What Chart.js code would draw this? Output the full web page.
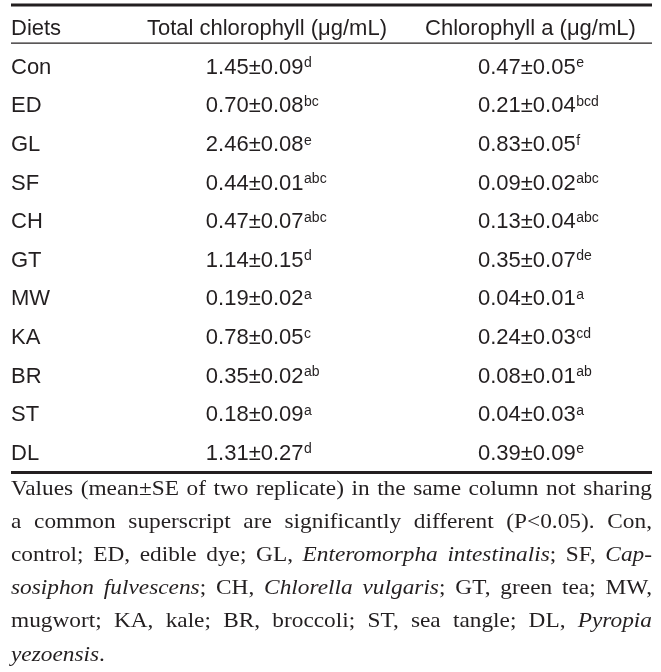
<!DOCTYPE html>
<html lang="en">
<head>
<meta charset="UTF-8">
<title>Chlorophyll by diet</title>
<script src="https://cdn.jsdelivr.net/npm/chart.js"></script>
<style>
  body { margin: 0; background: #fff; }
  #tabella { display: block; }
</style>
</head>
<body>
<canvas id="tabella" width="661" height="672"></canvas>
<script>
// dati della tabella
const diets = ['Con', 'ED', 'GL', 'SF', 'CH', 'GT', 'MW', 'KA', 'BR', 'ST', 'DL'];
const totalMean = [1.45, 0.70, 2.46, 0.44, 0.47, 1.14, 0.19, 0.78, 0.35, 0.18, 1.31];
const totalSE = [0.09, 0.08, 0.08, 0.01, 0.07, 0.15, 0.02, 0.05, 0.02, 0.09, 0.27];
const totalSig = ['d', 'bc', 'e', 'abc', 'abc', 'd', 'a', 'c', 'ab', 'a', 'd'];
const chlaMean = [0.47, 0.21, 0.83, 0.09, 0.13, 0.35, 0.04, 0.24, 0.08, 0.04, 0.39];
const chlaSE = [0.05, 0.04, 0.05, 0.02, 0.04, 0.07, 0.01, 0.03, 0.01, 0.03, 0.09];
const chlaSig = ['e', 'bcd', 'f', 'abc', 'abc', 'de', 'a', 'cd', 'ab', 'a', 'e'];
const headers = ['Diets', 'Total chlorophyll (μg/mL)', 'Chlorophyll a (μg/mL)'];
// _ marks italic on/off
const footnote = [
    'Values (mean±SE of two replicate) in the same column not sharing',
    'a common superscript are significantly different (P<0.05). Con,',
    'control; ED, edible dye; GL, _Enteromorpha intestinalis_; SF, _Cap-_',
    '_sosiphon fulvescens_; CH, _Chlorella vulgaris_; GT, green tea; MW,',
    'mugwort; KA, kale; BR, broccoli; ST, sea tangle; DL, _Pyropia_',
    '_yezoensis_.'
];

const ink = '#231f20';
const sans = '"Liberation Sans", Arial, sans-serif';
const serif = '"Liberation Serif", "Times New Roman", serif';

// posizioni delle colonne sulla scala x (0..1)
const headStart = [0, 0.212, 0.646];
const valStart = [0, 0.304, 0.7285];

const columns = [
    { mean: totalMean, se: totalSE, sig: totalSig },
    { mean: chlaMean, se: chlaSE, sig: chlaSig }
];

function parseWords(line) {
    const words = [];
    let italic = false, word = [], run = '';
    const flush = () => { if (run) word.push({ t: run, it: italic }); run = ''; };
    for (const ch of line) {
        if (ch === '_') { flush(); italic = !italic; }
        else if (ch === ' ') { flush(); if (word.length) words.push(word); word = []; }
        else run += ch;
    }
    flush();
    if (word.length) words.push(word);
    return words;
}

const fnSize = 22;
const fnStretch = 1.06;
function runFont(it) { return (it ? 'italic ' : '') + fnSize + 'px ' + serif; }
function wordWidth(ctx, w) {
    return w.reduce((s, r) => { ctx.font = runFont(r.it); return s + ctx.measureText(r.t).width; }, 0);
}

const tablePlugin = {
    id: 'tablePlugin',
    afterDraw(chart) {
        const ctx = chart.ctx;
        const xs = chart.scales.x, ys = chart.scales.y;
        const area = chart.chartArea;
        const left = xs.getPixelForValue(0), right = xs.getPixelForValue(1);
        ctx.save();
        ctx.fillStyle = ink;
        ctx.strokeStyle = ink;

        // righe orizzontali
        const rule = (yy, w) => { ctx.lineWidth = w; ctx.beginPath(); ctx.moveTo(left, yy); ctx.lineTo(right, yy); ctx.stroke(); };
        rule(ys.getPixelForValue(-1) - 22.5, 3);
        rule(ys.getPixelForValue(-0.5) - 3.5, 1.3);
        rule(area.bottom + 1.2, 3);

        // intestazione
        ctx.textBaseline = 'alphabetic';
        ctx.textAlign = 'left';
        ctx.font = '22px ' + sans;
        const hy = ys.getPixelForValue(-1) + 7.8;
        headers.forEach((h, i) => ctx.fillText(h, xs.getPixelForValue(headStart[i]), hy));

        // righe dati
        diets.forEach((d, i) => {
            const by = ys.getPixelForValue(i) + 7.8;
            ctx.font = '22px ' + sans;
            ctx.fillText(d, left, by);
            columns.forEach((c, j) => {
                const px = xs.getPixelForValue(valStart[j + 1]);
                const txt = c.mean[i].toFixed(2) + '±' + c.se[i].toFixed(2);
                ctx.font = '22px ' + sans;
                ctx.fillText(txt, px, by);
                const w = ctx.measureText(txt).width;
                ctx.font = '14px ' + sans;
                ctx.fillText(c.sig[i], px + w + 0.5, by - 6.5);
            });
        });

        // nota giustificata
        const width = right - left;
        footnote.forEach((line, k) => {
            const words = parseWords(line);
            const total = words.reduce((s, w) => s + wordWidth(ctx, w), 0);
            const last = k === footnote.length - 1;
            ctx.font = runFont(false);
            const normalGap = ctx.measureText(' ').width * fnStretch;
            let sx = fnStretch;
            let gap = last ? normalGap : (width - total * sx) / Math.max(1, words.length - 1);
            if (!last && gap < normalGap * 0.6) {
                gap = normalGap * 0.6;
                sx = (width - gap * (words.length - 1)) / total;
            }
            const by = area.bottom + 23.2 + k * 33.2;
            let cx = left;
            words.forEach(w => {
                w.forEach(r => {
                    ctx.font = runFont(r.it);
                    ctx.save();
                    ctx.translate(cx, by);
                    ctx.scale(sx, 1);
                    ctx.fillText(r.t, 0, 0);
                    ctx.restore();
                    cx += ctx.measureText(r.t).width * sx;
                });
                cx += gap;
            });
        });
        ctx.restore();
    }
};

const chart = new Chart(document.getElementById('tabella').getContext('2d'), {
    type: 'scatter',
    data: {
        labels: diets,
        datasets: columns.map((c, j) => ({
            label: headers[j + 1],
            data: diets.map((d, i) => ({ x: valStart[j + 1], y: d, v: c.mean[i] })),
            pointRadius: 0,
            pointHoverRadius: 0
        }))
    },
    options: {
        responsive: false,
        animation: false,
        events: [],
        layout: { padding: { left: 11, right: 9, top: 46.7, bottom: 200.7 } },
        plugins: { legend: { display: false }, tooltip: { enabled: false } },
        scales: {
            x: { type: 'linear', min: 0, max: 1, display: false },
            y: { type: 'category', labels: diets, offset: true, display: false }
        }
    },
    plugins: [tablePlugin]
});
</script>
</body>
</html>
